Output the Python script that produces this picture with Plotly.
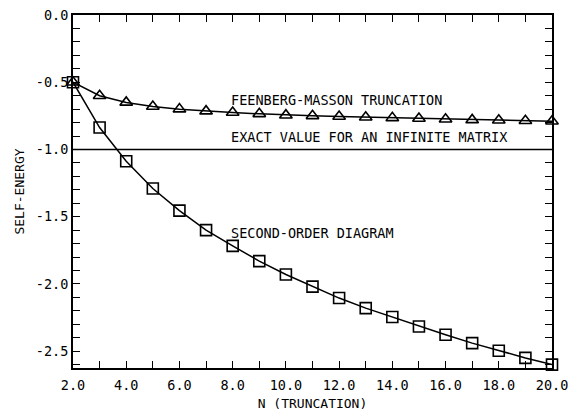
import plotly.graph_objects as go

n_vals = list(range(2, 21))
feenberg = [-0.50, -0.60, -0.65, -0.68, -0.70, -0.715, -0.725, -0.735, -0.745, -0.75,
            -0.755, -0.76, -0.765, -0.77, -0.775, -0.78, -0.783, -0.786, -0.79]
second_order = [-0.50, -0.837, -1.087, -1.29, -1.455, -1.60, -1.717, -1.83, -1.93, -2.02,
                -2.105, -2.18, -2.246, -2.316, -2.378, -2.44, -2.497, -2.55, -2.60]
exact_value = -1.0
x_tick_vals = [2, 4, 6, 8, 10, 12, 14, 16, 18, 20]
x_tick_text = ["2.0", "4.0", "6.0", "8.0", "10.0", "12.0", "14.0", "16.0", "18.0", "20.0"]
y_tick_vals = [0.0, -0.5, -1.0, -1.5, -2.0, -2.5]
y_tick_text = ["0.0", "-0.5", "-1.0", "-1.5", "-2.0", "-2.5"]

FONT = "DejaVu Sans Mono"

fig = go.Figure()
fig.add_trace(go.Scatter(
    x=[2, 20], y=[exact_value, exact_value], mode="lines",
    line=dict(color="black", width=1.5), showlegend=False, hoverinfo="skip"))
fig.add_trace(go.Scatter(
    x=n_vals, y=feenberg, mode="lines+markers",
    line=dict(color="black", width=1.5),
    marker=dict(symbol="triangle-up-open", size=11, color="black", line=dict(width=1.6)),
    cliponaxis=False, showlegend=False))
fig.add_trace(go.Scatter(
    x=n_vals, y=second_order, mode="lines+markers",
    line=dict(color="black", width=1.5),
    marker=dict(symbol="square-open", size=11, color="black", line=dict(width=1.6)),
    cliponaxis=False, showlegend=False))

labels = [
    (8.0, -0.629, "FEENBERG-MASSON TRUNCATION"),
    (8.0, -0.906, "EXACT VALUE FOR AN INFINITE MATRIX"),
    (8.0, -1.62, "SECOND-ORDER DIAGRAM"),
]
for x, y, t in labels:
    fig.add_annotation(x=x, y=y, text=t, showarrow=False, xanchor="left", yanchor="middle",
                       xshift=-4, font=dict(family=FONT, size=13.5, color="black"))

axis_common = dict(
    showgrid=False, zeroline=False, showline=True, linecolor="black", linewidth=2,
    mirror="ticks", ticks="inside", ticklen=7, tickwidth=1.2, tickcolor="black",
    tickfont=dict(family=FONT, size=13.5, color="black"), automargin=False,
    ticklabeloverflow="allow",
)
fig.update_xaxes(
    range=[2, 20], tickvals=x_tick_vals, ticktext=x_tick_text, ticklabelstandoff=4,
    minor=dict(dtick=1, tick0=2, ticks="inside", ticklen=7, tickwidth=1.2, tickcolor="black"),
    title=dict(text="N (TRUNCATION)", font=dict(family=FONT, size=13, color="black"), standoff=8),
    **axis_common)
fig.update_yaxes(
    range=[-2.625, 0], tickvals=y_tick_vals, ticktext=y_tick_text,
    minor=dict(dtick=0.1, tick0=0, ticks="inside", ticklen=7, tickwidth=1.2, tickcolor="black"),
    title=dict(text="SELF-ENERGY", font=dict(family=FONT, size=13, color="black"), standoff=8),
    **axis_common)

fig.update_layout(
    width=571, height=403,
    margin=dict(l=65, r=27, t=7, b=43),
    paper_bgcolor="white", plot_bgcolor="white",
)
fig.write_html("out.html")
